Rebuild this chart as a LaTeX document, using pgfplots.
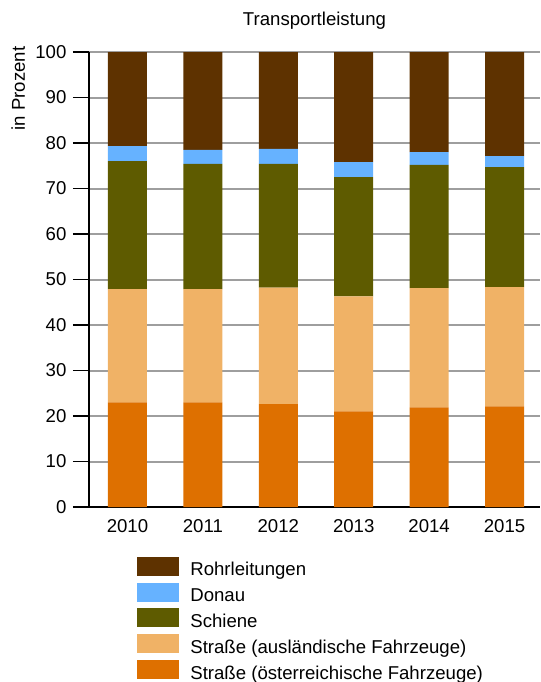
\documentclass[border=0pt]{standalone}
\usepackage{fontspec}
\setmainfont{Liberation Sans}
\usepackage{pgfplots}
\pgfplotsset{compat=1.18}
\usepackage{pgfplotstable}

\definecolor{rohr}{RGB}{94,50,0}
\definecolor{donau}{RGB}{102,178,255}
\definecolor{schiene}{RGB}{94,91,0}
\definecolor{ausl}{RGB}{240,178,102}
\definecolor{oest}{RGB}{222,112,0}

% Anteile in Prozent, 2010 bis 2015
\pgfplotstableread{
x  oest ausl schiene donau rohr
0  23.0 24.9 28.1    3.3   20.7
1  23.0 24.9 27.5    3.1   21.5
2  22.6 25.6 27.2    3.3   21.3
3  21.0 25.3 26.2    3.3   24.2
4  21.9 26.2 27.1    2.8   22.0
5  22.1 26.2 26.4    2.4   22.9
}\anteile

\begin{document}
\fontsize{9.3}{11}\selectfont
\begin{tikzpicture}
\begin{axis}[
    name=ax,
    scale only axis,
    width=225.5pt, height=227.5pt,
    ybar stacked, bar width=19.5pt,
    xmin=-0.51, xmax=5.47, ymin=0, ymax=100,
    xtick={0,1,2,3,4,5},
    xticklabels={2010,2011,2012,2013,2014,2015},
    xticklabel style={yshift=5pt},
    ytick={0,10,...,100},
    axis lines*=left,
    axis line style={black, line width=0.8pt},
    x tick style={draw=none},
    y tick style={black, line width=0.8pt},
    tick align=outside,
    major tick length=8pt,
    ymajorgrids,
    major grid style={black!38, line width=1pt},
    /pgf/number format/assume math mode=true,
    ticklabel style={font=\fontsize{9.3}{11}\selectfont},
    title={Transportleistung},
    title style={at={(0.5,1)}, anchor=south, yshift=2pt},
    ylabel={in Prozent},
    ylabel style={at={(axis description cs:-0.157,1.013)}, anchor=east, inner sep=0pt},
    every axis plot post/.append style={
        draw=none,
        /pgfplots/legend image code/.code={\fill[##1] (0pt,-2.45pt) rectangle (21pt,7.05pt);}},
    reverse legend,
    legend cell align=left,
    legend style={at={(0.1064,-0.108)}, anchor=north west, draw=none,
        inner sep=0pt, row sep=1.9pt, column sep=5.5pt,
        nodes={inner sep=0pt},
        font=\fontsize{9.3}{11}\selectfont},
]
\addplot[fill=oest] table[x=x, y=oest] {\anteile};
\addlegendentry{Straße (österreichische Fahrzeuge)}
\addplot[fill=ausl] table[x=x, y=ausl] {\anteile};
\addlegendentry{Straße (ausländische Fahrzeuge)}
\addplot[fill=schiene] table[x=x, y=schiene] {\anteile};
\addlegendentry{Schiene}
\addplot[fill=donau] table[x=x, y=donau] {\anteile};
\addlegendentry{Donau}
\addplot[fill=rohr] table[x=x, y=rohr] {\anteile};
\addlegendentry{Rohrleitungen}
\end{axis}
\pgfresetboundingbox
\useasboundingbox (-44.5pt,-87.5pt) rectangle (226pt,253.5pt);
\end{tikzpicture}
\end{document}
